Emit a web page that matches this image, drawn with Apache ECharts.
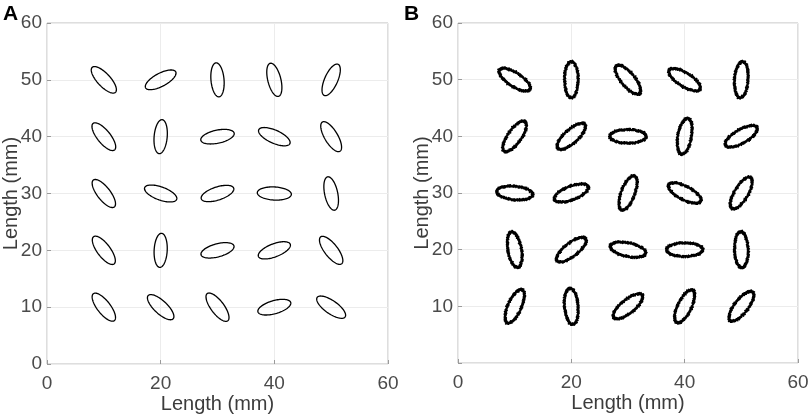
<!DOCTYPE html>
<html>
<head>
<meta charset="utf-8">
<script src="https://cdn.jsdelivr.net/npm/echarts@6/dist/echarts.min.js"></script>
<style>
  html, body { margin: 0; padding: 0; background: #fff; }
  #chart { width: 809px; height: 417px; }
</style>
</head>
<body>
<div id="chart"></div>
<script>
// ellipse centres (mm), same grid for both panels
var centersX = [10, 20, 30, 40, 50];
var centersY = [50, 40, 30, 20, 10];

// major-axis angle in degrees, one row per centre row (top to bottom)
var anglesA = [
    [-47, 28, 95, 104, 66],
    [-51, 85, 12, -24, -59],
    [-52, -20, 18, -3, 102],
    [-53, 87, 15, 21, -52],
    [-52, -43, -53, 16, -35]
];
var anglesB = [
    [-33, 90, -50, -32, 86],
    [55, 42, 0, 80, 30],
    [-5, 21, 69, -27, 59],
    [100, 38, -12, 0, 92],
    [66, 95, 39, 64, 52]
];

// semi-axes (mm) for panel A and panel B
var axesA = [3.0, 1.15];
var axesB = [3.2, 1.2];

function buildData(angles) {
    var out = [];
    for (let r = 0; r < centersY.length; r++) {
        for (let c = 0; c < centersX.length; c++) {
            out.push([centersX[c], centersY[r], angles[r][c]]);
        }
    }
    return out;
}

// rough = true gives the fuzzy outline of the measured shapes
function ellipseRenderer(semi, rough) {
    return function (params, api) {
        var cx = api.value(0);
        var cy = api.value(1);
        var th = api.value(2) * Math.PI / 180;
        var n = rough ? 360 : 90;
        var pts = [];
        for (let k = 0; k < n; k++) {
            var t = 2 * Math.PI * k / n;
            var ex = semi[0] * Math.cos(t);
            var ey = semi[1] * Math.sin(t);
            var x = cx + ex * Math.cos(th) - ey * Math.sin(th);
            var y = cy + ex * Math.sin(th) + ey * Math.cos(th);
            if (rough) {
                var j = k + params.dataIndex * 23;
                x += 0.14 * Math.sin(j * 2.3) + 0.08 * Math.sin(j * 7.9 + 0.6);
                y += 0.14 * Math.sin(j * 3.7 + 1.1) + 0.08 * Math.sin(j * 5.3 + 2.0);
            }
            pts.push(api.coord([x, y]));
        }
        return {
            type: 'polygon',
            shape: { points: pts },
            style: { fill: 'none', stroke: '#000', lineWidth: rough ? 1.7 : 1.3, lineJoin: 'round' }
        };
    };
}

var fontName = 'Liberation Sans, Arial, sans-serif';

function makeAxis(idx, isX, hideZero) {
    return {
        type: 'value',
        gridIndex: idx,
        min: 0,
        max: 60,
        interval: isX ? 20 : 10,
        name: 'Length (mm)',
        nameLocation: 'middle',
        nameGap: isX ? 30 : 26,
        nameMoveOverlap: false,
        nameTextStyle: { fontSize: 20, color: '#3c3c3c', fontFamily: fontName },
        axisLine: { show: false },
        axisTick: { show: true, inside: true, length: 4, lineStyle: { color: '#9a9a9a' } },
        axisLabel: {
            fontSize: 19,
            color: '#4a4a4a',
            fontFamily: fontName,
            margin: isX ? 10 : 5,
            formatter: function (v) {
                if (hideZero && v === 0) return '';
                return String(v);
            }
        },
        splitLine: { show: true, lineStyle: { color: '#ececec', width: 1 } }
    };
}

var chart = echarts.init(document.getElementById('chart'));

var option = {
    backgroundColor: '#fff',
    animation: false,
    title: [
        { text: 'A', left: 3, top: 4, padding: 0, textStyle: { fontSize: 21, fontWeight: 'bold', color: '#000', fontFamily: fontName } },
        { text: 'B', left: 404, top: 4, padding: 0, textStyle: { fontSize: 21, fontWeight: 'bold', color: '#000', fontFamily: fontName } }
    ],
    grid: [
        { left: 47, top: 23, width: 341, height: 341, outerBoundsMode: 'none', containLabel: false, show: true, borderColor: '#bdbdbd', borderWidth: 1, backgroundColor: 'transparent' },
        { left: 458, top: 23, width: 340, height: 340, outerBoundsMode: 'none', containLabel: false, show: true, borderColor: '#bdbdbd', borderWidth: 1, backgroundColor: 'transparent' }
    ],
    xAxis: [makeAxis(0, true, false), makeAxis(1, true, false)],
    yAxis: [makeAxis(0, false, false), makeAxis(1, false, true)],
    series: [
        {
            name: 'A',
            type: 'custom',
            xAxisIndex: 0,
            yAxisIndex: 0,
            renderItem: ellipseRenderer(axesA, false),
            data: buildData(anglesA)
        },
        {
            name: 'B',
            type: 'custom',
            xAxisIndex: 1,
            yAxisIndex: 1,
            renderItem: ellipseRenderer(axesB, true),
            data: buildData(anglesB)
        }
    ]
};

chart.setOption(option);
</script>
</body>
</html>
